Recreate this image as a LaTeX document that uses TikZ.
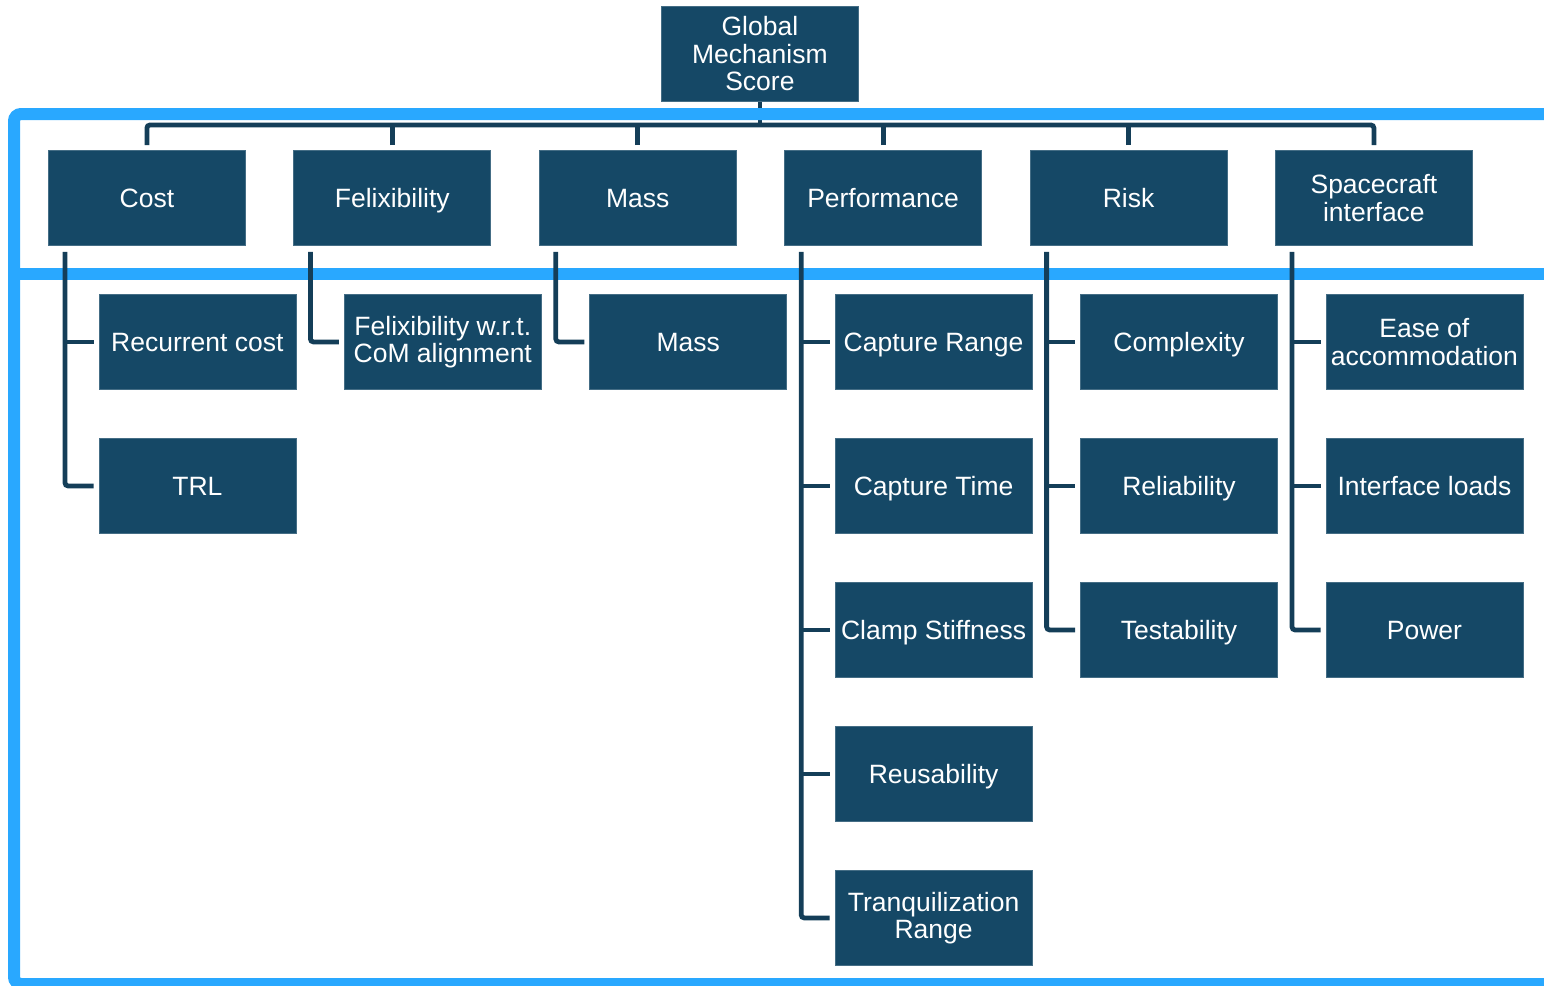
\documentclass[tikz,border=0pt]{standalone}
\usepackage{fontspec}
\setmainfont{Liberation Sans}
\definecolor{boxc}{RGB}{21,72,102}
\definecolor{linec}{RGB}{20,62,88}
\definecolor{framec}{RGB}{41,168,255}
\tikzset{
  box/.style={fill=boxc, draw=boxc!80!white, line width=0.8bp, minimum width=197bp,
    minimum height=95bp, inner sep=0pt, text=white, align=center, anchor=north west,
    font=\fontsize{26.5bp}{27.5bp}\selectfont},
  one/.style={box, text height=19bp, text depth=0bp},
  conn/.style={draw=linec, line width=4.8bp, rounded corners=3bp},
  frame/.style={draw=framec, line width=12bp, rounded corners=7bp},
}
\begin{document}
\begin{tikzpicture}[x=1bp, y=-1bp]
\useasboundingbox (0,0) rectangle (1544,985);

% root
\node[box] (root) at (661,6) {Global\\Mechanism\\Score};

% first level
\node[one] (cost) at (48,150) {Cost};
\node[one] (flex) at (293.4,150) {Felixibility};
\node[one] (mass) at (538.8,150) {Mass};
\node[one] (perf) at (784.2,150) {Performance};
\node[one] (risk) at (1029.6,150) {Risk};
\node[box] (sci)  at (1275,150) {Spacecraft\\interface};

% second level
\node[one] (rec)  at (98.5,294) {Recurrent cost};
\node[one] (trl)  at (98.5,438) {TRL};
\node[box] (flxc) at (343.9,294) {Felixibility w.r.t.\\CoM alignment};
\node[one] (mss)  at (589.3,294) {Mass};
\node[one] (capr) at (834.7,294) {Capture Range};
\node[one] (capt) at (834.7,438) {Capture Time};
\node[one] (clmp) at (834.7,582) {Clamp Stiffness};
\node[one] (reus) at (834.7,726) {Reusability};
\node[box] (tranq) at (834.7,870) {Tranquilization\\Range};
\node[one] (cplx) at (1080.1,294) {Complexity};
\node[one] (rel)  at (1080.1,438) {Reliability};
\node[one] (test) at (1080.1,582) {Testability};
\node[box] (ease) at (1325.5,294) {Ease of\\accommodation};
\node[one] (load) at (1325.5,438) {Interface loads};
\node[one] (pwr)  at (1325.5,582) {Power};

% bus below the root
\coordinate (bus) at (760,125);
\draw[conn] (root.south) -- (root.south |- bus);

% frame around the two levels
\draw[frame] (1570,114) -- (14,114) -- (14,984) -- (1570,984);
\draw[frame] (14,274) -- (1570,274);

\draw[conn] ([yshift=5bp]cost.north) |- (bus) -| ([yshift=5bp]sci.north);
\foreach \n in {flex,mass,perf,risk}
  \draw[conn] ([yshift=5bp]\n.north) -- (\n.north |- bus);

% branches to the second level
\foreach \p/\last/\others in {cost/trl/{rec}, flex/flxc/{}, mass/mss/{}, perf/tranq/{capr,capt,clmp,reus},
                              risk/test/{cplx,rel}, sci/pwr/{ease,load}} {
  \coordinate (v) at ([xshift=17bp,yshift=-6bp]\p.south west);
  \draw[conn] (v) |- ([xshift=-5bp]\last.west);
  \foreach \c in \others
    \draw[conn] (v |- \c.west) -- ([xshift=-5bp]\c.west);
}
\end{tikzpicture}
\end{document}
